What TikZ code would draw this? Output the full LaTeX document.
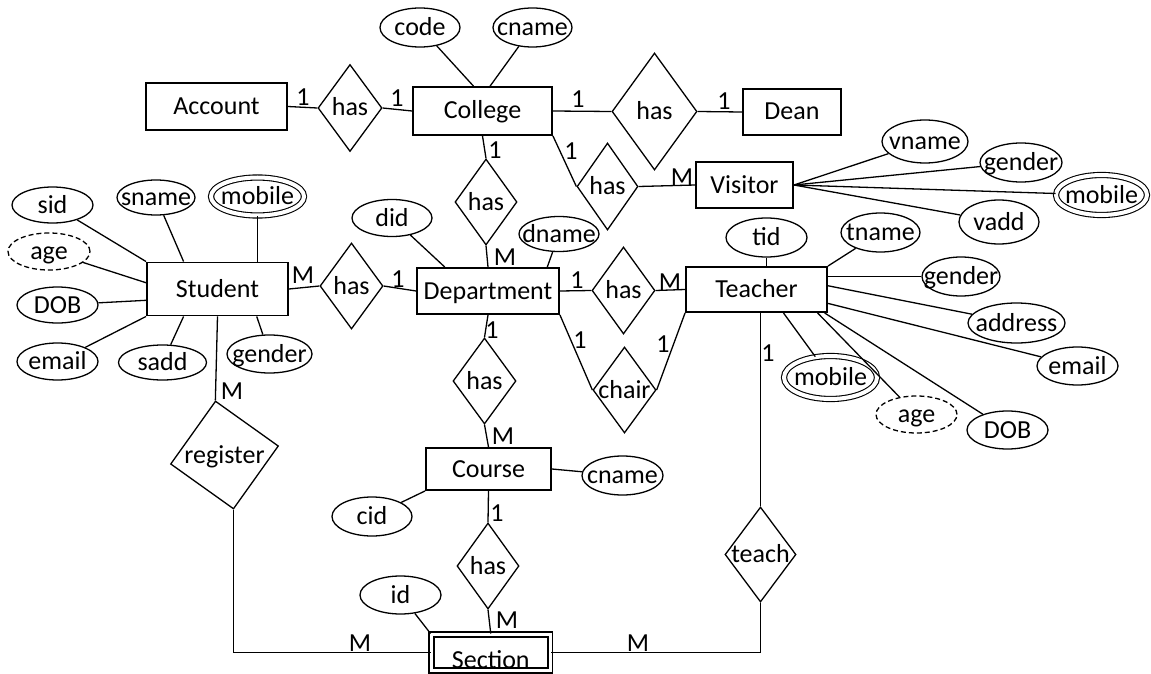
\documentclass[tikz,border=0pt]{standalone}
\usepackage{fontspec}
\setmainfont{Carlito}
\usetikzlibrary{shapes.geometric}

\begin{document}
\begin{tikzpicture}[x=1pt,y=-1pt,line width=1.3pt,
		font=\fontsize{26}{31}\selectfont,
		every node/.style={inner sep=0pt,text height=20pt,text depth=4pt},
		ent/.style={rectangle,draw,line width=1.9pt,minimum width=141pt,minimum height=46pt},
		rel/.style={diamond,draw,inner sep=-10pt,minimum width=63pt,minimum height=86pt},
		attr/.style={ellipse,draw,inner sep=-10pt,minimum width=80pt,minimum height=38pt},
		multi/.style={attr,double,double distance=4pt,line width=1.1pt},
		derived/.style={attr,dash pattern=on 5pt off 3pt}]
		\useasboundingbox (0,0) rectangle (1151,674);
		\node[ent,minimum height=47pt] (account) at (216.5,106.5) {Account};
		\node[rel,minimum width=64pt,minimum height=87pt] (hasac) at (350,108) {has};
		\node[ent,minimum width=139pt,minimum height=48pt] (college) at (482.5,111) {College};
		\node[attr,minimum height=39pt] (code) at (420,27.5) {code};
		\node[attr,minimum width=79pt,minimum height=39pt] (cname) at (532.5,27.5) {cname};
		\node[rel,minimum width=85pt,minimum height=117pt] (hascd) at (654.5,111.5) {has};
		\node[ent,minimum width=98pt] (dean) at (792,112) {Dean};
		\node[rel,minimum width=61pt,minimum height=87pt] (hascv) at (607.5,186.5) {has};
		\node[ent,minimum width=97pt] (visitor) at (744.5,185) {Visitor};
		\node[attr,minimum width=86pt,minimum height=43pt] (vname) at (925,141.5) {vname};
		\node[attr,minimum width=82pt,minimum height=39pt] (vgender) at (1021,162.5) {gender};
		\node[multi,minimum width=91pt,minimum height=40pt] (vmobile) at (1101.5,195) {mobile};
		\node[attr,minimum height=44pt] (vadd) at (999,222) {vadd};
		\node[rel,minimum width=62pt] (hascdep) at (486,202) {has};
		\node[ent,minimum width=142pt] (department) at (488,291) {Department};
		\node[attr,minimum height=37pt] (did) at (392,218) {did};
		\node[attr,minimum height=35pt] (dname) at (559,234) {dname};
		\node[rel,minimum height=87pt] (hasdt) at (623.5,290.5) {has};
		\node[ent,minimum height=45pt] (teacher) at (756.5,289.5) {Teacher};
		\node[attr,minimum width=81pt,minimum height=39pt] (tid) at (766.5,237.5) {tid};
		\node[attr,minimum width=79pt,minimum height=39pt] (tname) at (880.5,232.5) {tname};
		\node[attr,minimum width=78pt,minimum height=39pt] (tgender) at (961,276.5) {gender};
		\node[attr,minimum width=97pt,minimum height=40pt] (taddress) at (1016.5,323) {address};
		\node[attr,minimum width=81pt] (temail) at (1077.5,366) {email};
		\node[attr,minimum width=81pt] (tdob) at (1007.5,430) {DOB};
		\node[derived,minimum width=81pt,minimum height=37pt] (tage) at (916.5,414.5) {age};
		\node[multi,minimum width=93pt,minimum height=43pt] (tmobile) at (830.5,377.5) {mobile};
		\node[rel] (chair) at (624.5,390) {chair};
		\node[rel] (hasdc) at (484.5,381) {has};
		\node[ent,minimum width=125pt,minimum height=42pt] (course) at (488.5,469) {Course};
		\node[attr,minimum width=81pt,minimum height=39pt] (ccname) at (622.5,475.5) {cname};
		\node[attr,minimum height=39pt] (cid) at (372,516.5) {cid};
		\node[rel,minimum width=62pt] (hascs) at (488,566) {has};
		\node[ent,double,double distance=3pt,minimum width=118.5pt,minimum height=36pt,text height=31pt,text depth=0pt] (section) at (490.75,652.5) {Section};
		\node[attr,minimum width=81pt] (id) at (400.5,595) {id};
		\node[ent,minimum height=53pt] (student) at (217.5,289) {Student};
		\node[rel] (hassd) at (351.5,286) {has};
		\node[attr,minimum width=81pt,minimum height=36pt] (sid) at (52.5,205) {sid};
		\node[attr,minimum width=78pt,minimum height=35pt] (sname) at (156,197.5) {sname};
		\node[multi,minimum width=93pt,minimum height=38pt] (smobile) at (257.5,196.5) {mobile};
		\node[derived,minimum width=82pt,minimum height=37pt] (sage) at (49,251.5) {age};
		\node[attr,minimum width=81pt,minimum height=36pt] (sdob) at (57.5,305) {DOB};
		\node[attr,minimum width=81pt,minimum height=37pt] (semail) at (57.5,361.5) {email};
		\node[attr,minimum width=88pt,minimum height=35pt] (sadd) at (162.5,362.5) {sadd};
		\node[attr,minimum width=85pt,minimum height=38pt] (sgender) at (269.5,354) {gender};
		\node[rel,minimum width=109.5pt,minimum height=109.5pt,rotate=9.5] (register) at (224.5,455) {};
		\node (registertext) at (register) {register};
		\node[rel,minimum width=71pt,minimum height=95pt] (teach) at (760.5,554.5) {teach};
		\draw (account.east) -- (hasac.west);
		\draw (hasac.east) -- (college.west);
		\draw (college.east) -- (hascd.west);
		\draw (hascd.east) -- (dean.west);
		\draw (college.south east) -- (hascv.west);
		\draw (hascv.east) -- (visitor.west);
		\draw (code) -- (college.110);
		\draw (cname) -- (college.73);
		\draw (visitor.east) -- (vname);
		\draw (visitor.east) -- (vgender);
		\draw (visitor.east) -- (vmobile);
		\draw (visitor.east) -- (vadd);
		\draw (college.south) -- (hascdep.north);
		\draw (hascdep.south) -- (department.north);
		\draw (did) -- (department.151);
		\draw (dname) -- (department.22);
		\draw (department.east) -- (hasdt.west);
		\draw (hasdt.east) -- (teacher.west);
		\draw (department.south east) -- (chair.west);
		\draw (chair.east) -- (teacher.south west);
		\draw (department.south) -- (hasdc.north);
		\draw (hasdc.south) -- (course.north);
		\draw (course.south) -- (hascs.north);
		\draw (hascs.south) -- (section.north);
		\draw (cid) -- (course.south west);
		\draw (course.east) -- (ccname);
		\draw (id) -- (section.north west);
		\draw (student.east) -- (hassd.west);
		\draw (hassd.east) -- (department.west);
		\draw (sid) -- (student.north west);
		\draw (sname) -- (student.141);
		\draw (smobile) -- (smobile |- student.north);
		\draw (sage) -- (student.175);
		\draw (sdob) -- (student.189);
		\draw (semail) -- (student.south west);
		\draw (sadd) -- (student.219);
		\draw (sgender) -- (student.325);
		\draw (student.south) -- (register.north);
		\draw (register.south) |- (section.west);
		\draw (tid) -- (tid |- teacher.north);
		\draw (tname) -- (teacher.north east);
		\draw (tgender) -- (tgender -| teacher.east);
		\draw (taddress) -- (teacher.3);
		\draw (temail) -- (teacher.349);
		\draw (tdob) -- (teacher.341);
		\draw (tage) -- (teacher.339);
		\draw (tmobile) -- (teacher.319);
		\draw (teach.north) -- (teach.north |- teacher.south);
		\draw (teach.south) |- (section.east);
		\node (cacc) at (303,98) {1};
		\node (cacol) at (397,99) {1};
		\node (ccold) at (578,100) {1};
		\node (cdean) at (724,102) {1};
		\node (ccolv) at (571,151) {1};
		\node (cvis) at (682,177) {M};
		\node (ccoldep) at (495,150) {1};
		\node (cdepc) at (505,257) {M};
		\node (cdept) at (577,280) {1};
		\node (ctdep) at (670,282) {M};
		\node (cdepch) at (580,340) {1};
		\node (ctch) at (663,344) {1};
		\node (cdepco) at (492,330) {1};
		\node (ccodep) at (503,436) {M};
		\node (ccos) at (497,513) {1};
		\node (csco) at (507,620) {M};
		\node (csreg) at (360,643) {M};
		\node (cstea) at (638,643) {M};
		\node (cteach) at (768,353) {1};
		\node (cstud) at (303,275) {M};
		\node (cdeps) at (398,279) {1};
		\node (creg) at (232,391) {M};
	\end{tikzpicture}
\end{document}
